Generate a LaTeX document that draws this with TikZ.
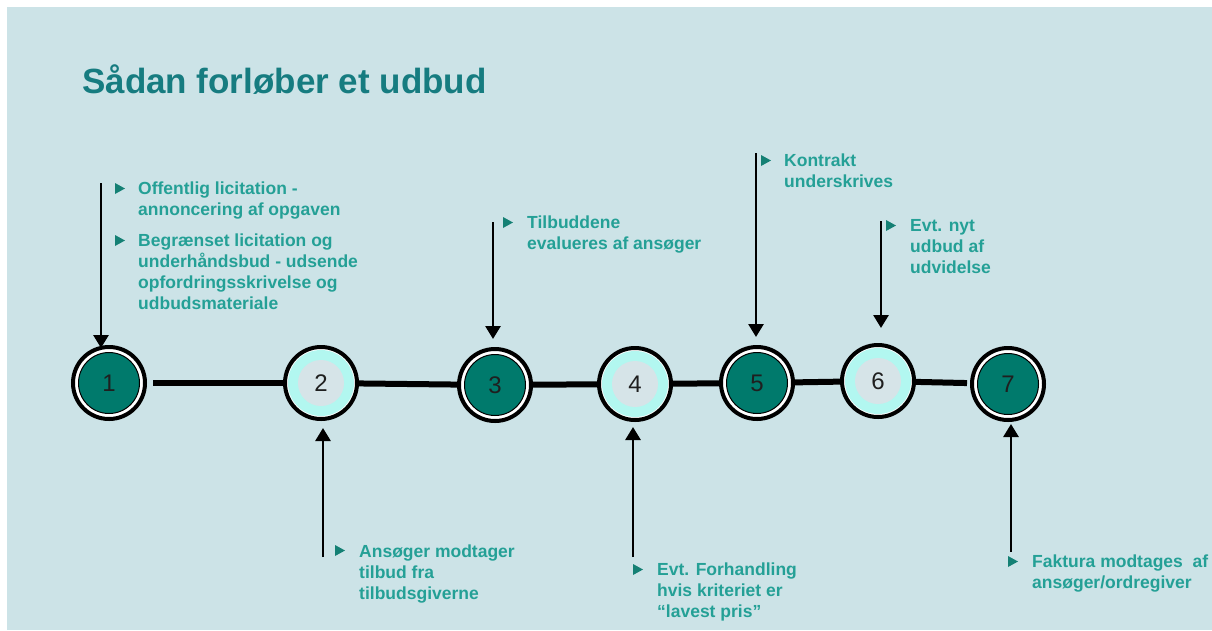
\documentclass[tikz,border=0pt]{standalone}
\usepackage{fontspec}
\setmainfont{Liberation Sans}
\usetikzlibrary{arrows.meta}
\definecolor{bgc}{RGB}{204,227,231}
\definecolor{titlec}{RGB}{22,124,128}
\definecolor{txtc}{RGB}{36,160,150}
\definecolor{bulc}{RGB}{20,128,116}
\definecolor{darkc}{RGB}{0,122,108}
\definecolor{cyanc}{RGB}{178,247,240}
\definecolor{grayc}{RGB}{214,228,232}
\newcommand{\mylines}[1]{\begin{tabular}[t]{@{}l@{}}#1\end{tabular}}
\begin{document}
\begin{tikzpicture}[x=1pt,y=-1pt,
  stepbase/.style={circle, draw=black, line width=4pt, fill=white, minimum size=72pt, inner sep=0pt,
    font=\fontsize{24}{24}\selectfont, text=black!88},
  stepdark/.style={stepbase,
    path picture={\filldraw[fill=darkc, draw=black, line width=1pt] (path picture bounding box.center) circle[radius=30.5pt];}},
  steplight/.style={stepbase,
    path picture={\fill[cyanc] (path picture bounding box.center) circle[radius=33pt];
                  \fill[grayc] (path picture bounding box.center) circle[radius=23pt];}},
  conn/.style={line width=6pt, black},
  arr/.style={line width=2.8pt, black, -{Triangle[width=15pt,length=13pt]}},
  txt/.style={anchor=base west, inner sep=0pt, text=txtc,
    font=\bfseries\fontsize{17.5}{21}\selectfont},
  bul/.pic={\fill[bulc] (0,0) -- (0,-11) -- (10,-5.5) -- cycle;}
]
\useasboundingbox (0,0) rectangle (1212,630);
\fill[bgc] (7,7) rectangle (1212,630);

\node[anchor=base west, inner sep=0pt, text=titlec, font=\bfseries\fontsize{35}{40}\selectfont]
  (title) at (82,93) {Sådan forløber et udbud};

% circles
\node[stepdark]  (c1) at (109,383) {1};
\node[steplight] (c2) at (321,383) {2};
\node[stepdark]  (c3) at (495,385) {3};
\node[steplight] (c4) at (635,384) {4};
\node[stepdark]  (c5) at (757,383) {5};
\node[steplight] (c6) at (878,381) {6};
\node[stepdark]  (c7) at (1008,384) {7};

% connectors between steps
\draw[conn, shorten <=6pt] (c1) -- (c2);
\draw[conn] (c2) -- (c3);
\draw[conn] (c3) -- (c4);
\draw[conn] (c4) -- (c5);
\draw[conn] (c5) -- (c6);
\draw[conn, shorten >=3pt] (c6) -- (c7);

% arrow start points
\coordinate (a1) at (101,183);
\coordinate (a2) at (323,557);
\coordinate (a3) at (493,222);
\coordinate (a4) at (633,557);
\coordinate (a5) at (756,153);
\coordinate (a6) at (881,221);
\coordinate (a7) at (1011,552);

\draw[arr, shorten >=-3pt] (a1) -- (a1 |- c1.north);
\draw[arr, shorten >=7pt]  (a2) -- (a2 |- c2.south);
\draw[arr, shorten >=8pt]  (a3) -- (a3 |- c3.north);
\draw[arr, shorten >=5pt]  (a4) -- (a4 |- c4.south);
\draw[arr, shorten >=8pt]  (a5) -- (a5 |- c5.north);
\draw[arr, shorten >=15pt] (a6) -- (a6 |- c6.north);
\draw[arr, shorten >=2pt]  (a7) -- (a7 |- c7.south);

% bullets
\pic at (115,194) {bul};
\pic at (115,246) {bul};
\pic at (335,556) {bul};
\pic at (503,228) {bul};
\pic at (633,575) {bul};
\pic at (761,166) {bul};
\pic at (886,231) {bul};
\pic at (1008,567) {bul};

% texts
\node[txt] (t1a) at (138,194) {\mylines{Offentlig licitation -\\annoncering af opgaven}};
\node[txt] (t1b) at (138,246) {\mylines{Begrænset licitation og\\underhåndsbud - udsende\\opfordringsskrivelse og\\udbudsmateriale}};
\node[txt] (t2) at (359,557) {\mylines{Ansøger modtager\\tilbud fra\\tilbudsgiverne}};
\node[txt] (t3) at (527,228) {\mylines{Tilbuddene\\evalueres af ansøger}};
\node[txt] (t4) at (657,575) {\mylines{Evt. Forhandling\\hvis kriteriet er\\“lavest pris”}};
\node[txt] (t5) at (784,166) {\mylines{Kontrakt\\underskrives}};
\node[txt] (t6) at (910,231) {\mylines{Evt. nyt\\udbud af\\udvidelse}};
\node[txt] (t7) at (1032,567) {\mylines{Faktura modtages~ af\\ansøger/ordregiver}};
\end{tikzpicture}
\end{document}
